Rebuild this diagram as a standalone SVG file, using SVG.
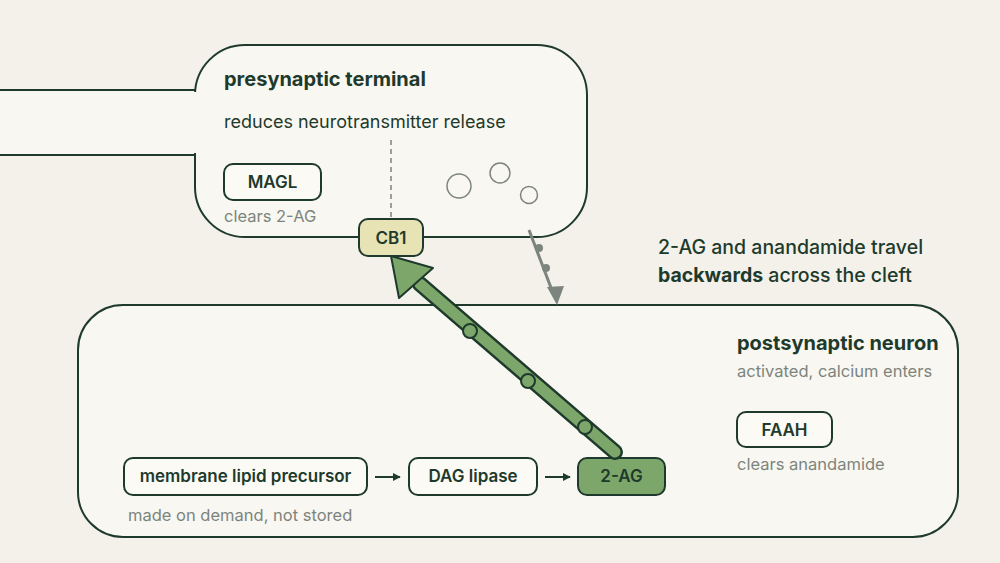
<svg xmlns="http://www.w3.org/2000/svg" width="1000" height="563" viewBox="0 0 1000 563">
<style>
text{font-family:Inter,"Liberation Sans",sans-serif;fill:#1e3a2c}
.cell{fill:#f9f7f1;stroke:#1e3a2c;stroke-width:2}
.box{fill:#fbfaf5;stroke:#1e3a2c;stroke-width:2}
.t{font-size:17px;font-weight:600}
.h{font-size:20px;font-weight:700}
.s{font-size:16.5px;fill:#7c857d}
.b{font-size:18px}
</style>
<defs>
<marker id="ah" viewBox="0 0 10 10" refX="9" refY="5" markerWidth="8" markerHeight="8" markerUnits="userSpaceOnUse" orient="auto"><path d="M0,0L10,5L0,10z" fill="#1e3a2c"/></marker>
</defs>
<rect width="1000" height="563" fill="#f3f1ea"/>
<g id="axon"><rect x="-5" y="90" width="220" height="65" class="cell"/></g>
<g id="presynaptic">
<rect x="195" y="45" width="392" height="192" rx="50" class="cell"/>
<rect x="193" y="92" width="6" height="61" fill="#f9f7f1"/>
<text x="224" y="86" class="h">presynaptic terminal</text>
<text x="224" y="128" class="b">reduces neurotransmitter release</text>
<line x1="391" y1="140" x2="391" y2="219" stroke="#7c857d" stroke-width="1.5" stroke-dasharray="5,4"/>
<circle cx="459" cy="186" r="12" fill="none" stroke="#7c857d" stroke-width="1.5"/>
<circle cx="500" cy="173" r="10" fill="none" stroke="#7c857d" stroke-width="1.5"/>
<circle cx="529" cy="195" r="8.5" fill="none" stroke="#7c857d" stroke-width="1.5"/>
</g>
<g id="magl"><rect x="224" y="164" width="97" height="36" rx="9" class="box"/><text x="272.5" y="188" class="t" text-anchor="middle">MAGL</text><text x="224" y="222" class="s">clears 2-AG</text></g>
<g id="postsynaptic">
<rect x="78" y="305" width="880" height="232" rx="45" class="cell"/>
<text x="737" y="350" class="h">postsynaptic neuron</text>
<text x="737" y="377" class="s">activated, calcium enters</text>
</g>
<g id="faah"><rect x="737" y="412" width="95" height="35" rx="9" class="box"/><text x="784.5" y="436" class="t" text-anchor="middle">FAAH</text><text x="737" y="470" class="s">clears anandamide</text></g>
<g id="precursor"><rect x="124" y="458" width="243" height="37" rx="9" class="box"/><text x="245.5" y="482" class="t" text-anchor="middle">membrane lipid precursor</text><text x="128" y="521" class="s">made on demand, not stored</text></g>
<g id="dag"><rect x="409" y="458" width="128" height="37" rx="9" class="box"/><text x="473" y="482" class="t" text-anchor="middle">DAG lipase</text></g>
<g id="twoag"><rect x="578" y="458" width="87" height="37" rx="9" fill="#7ca66a" stroke="#1e3a2c" stroke-width="2"/><text x="621.5" y="482" class="t" text-anchor="middle">2-AG</text></g>
<g id="connectors">
<line x1="375" y1="477" x2="400" y2="477" stroke="#1e3a2c" stroke-width="2" marker-end="url(#ah)"/>
<line x1="545" y1="477" x2="570" y2="477" stroke="#1e3a2c" stroke-width="2" marker-end="url(#ah)"/>
<line x1="529" y1="230" x2="553" y2="293" stroke="#7c857d" stroke-width="3"/>
<circle cx="539" cy="248" r="4" fill="#7c857d"/><circle cx="546" cy="268" r="4" fill="#7c857d"/>
<path d="M557,305L547,287L564,286z" fill="#7c857d"/>
<line x1="615" y1="452" x2="420" y2="284" stroke="#1e3a2c" stroke-width="16" stroke-linecap="round"/>
<line x1="615" y1="452" x2="420" y2="284" stroke="#7ca66a" stroke-width="11" stroke-linecap="round"/>
<path d="M391,256L433,268L399,298z" fill="#7ca66a" stroke="#1e3a2c" stroke-width="2" stroke-linejoin="round"/>
<g fill="#7ca66a" stroke="#1e3a2c" stroke-width="2"><circle cx="470" cy="331" r="7"/><circle cx="528" cy="381" r="7"/><circle cx="585" cy="427" r="7"/></g>
</g>
<g id="cb1"><rect x="359" y="219" width="64" height="37" rx="9" fill="#e8e3b5" stroke="#1e3a2c" stroke-width="2"/><text x="391" y="244" class="t" text-anchor="middle">CB1</text></g>
<g id="label"><text x="658" y="254" font-size="19.5" font-weight="500">2-AG and anandamide travel</text><text x="658" y="282" font-size="19.5" font-weight="500"><tspan font-weight="700">backwards</tspan> across the cleft</text></g>
</svg>
